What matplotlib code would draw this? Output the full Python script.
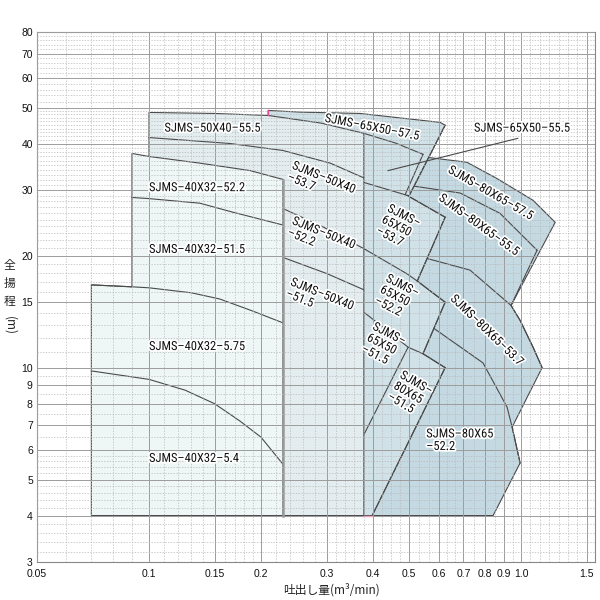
import numpy as np
import matplotlib
matplotlib.use("Agg")
import matplotlib.pyplot as plt
import matplotlib.patheffects as pe
from matplotlib import font_manager
from matplotlib.ticker import FixedLocator, FixedFormatter, NullFormatter

# ---- curves: flow (m3/min), head (m) ----
# SJMS-40X32
q_4032_54 = [0.07, 0.10, 0.125, 0.15, 0.175, 0.20, 0.229]
h_4032_54 = [9.8, 9.3, 8.7, 8.0, 7.2, 6.5, 5.5]
q_4032_575 = [0.07, 0.09, 0.10, 0.13, 0.155, 0.19, 0.229]
h_4032_575 = [16.7, 16.5, 16.4, 15.9, 15.3, 14.2, 13.2]
q_4032_515 = [0.09, 0.10, 0.137, 0.168, 0.229]
h_4032_515 = [28.7, 28.5, 27.7, 26.2, 24.2]
q_4032_522 = [0.09, 0.10, 0.137, 0.187, 0.229]
h_4032_522 = [37.7, 37.0, 35.5, 33.9, 32.1]

# SJMS-50X40
q_5040_555 = [0.10, 0.15, 0.209, 0.29, 0.378]
h_5040_555 = [48.6, 48.3, 47.7, 45.5, 42.7]
q_5040_537 = [0.10, 0.165, 0.229, 0.307, 0.378]
h_5040_537 = [41.6, 40.1, 38.4, 35.5, 32.4]
q_5040_522 = [0.229, 0.294, 0.378]
h_5040_522 = [26.8, 23.9, 20.9]
q_5040_515 = [0.229, 0.301, 0.378]
h_5040_515 = [19.8, 17.9, 16.2]

# SJMS-65X50 (+ 80X65-51.5)
q_6550_575 = [0.209, 0.255, 0.369, 0.48, 0.606, 0.625]
h_6550_575 = [49.2, 48.7, 48.3, 46.9, 45.7, 44.9]
q_6550_555 = [0.378, 0.46, 0.545]
h_6550_555 = [42.7, 40.2, 37.5]
q_6550_537 = [0.378, 0.493, 0.625]
h_6550_537 = [31.5, 29.1, 25.4]
q_6550_522 = [0.378, 0.493, 0.526, 0.625]
h_6550_522 = [20.9, 17.9, 17.1, 15.0]
q_515 = [0.378, 0.436, 0.497, 0.545, 0.625]
h_515 = [14.1, 12.6, 11.35, 10.9, 10.0]
# straight limit lines (flow, head) pairs
edge_6550_575 = ([0.625, 0.50], [44.9, 29.0])
edge_6550_555 = ([0.545, 0.488], [37.5, 29.2])
edge_6550_537 = ([0.625, 0.526], [25.4, 17.1])
edge_6550_522 = ([0.625, 0.545], [15.0, 10.9])
edge_6550_515 = ([0.497, 0.378], [11.35, 6.6])
edge_8065_515 = ([0.625, 0.398], [10.0, 4.0])

# SJMS-80X65
q_8065_575 = [0.50, 0.56, 0.715, 0.86, 1.077, 1.235]
h_8065_575 = [37.0, 36.8, 35.7, 32.3, 28.2, 24.6]
q_8065_555 = [0.503, 0.686, 0.878, 1.104]
h_8065_555 = [30.9, 29.5, 26.0, 20.7]
q_8065_537 = [0.52, 0.545, 0.729, 0.94, 0.994, 1.077, 1.139]
h_8065_537 = [20.2, 19.8, 18.3, 14.7, 13.4, 11.35, 10.0]
q_8065_522 = [0.56, 0.58, 0.79, 0.917, 0.946, 0.994]
h_8065_522 = [13.2, 12.8, 10.3, 7.83, 6.92, 5.54]

h_min = 4.0

# axis ticks
x_major = [0.05, 0.1, 0.15, 0.2, 0.3, 0.4, 0.5, 0.6, 0.7, 0.8, 0.9, 1.0, 1.5]
x_labels = ['0.05', '0.1', '0.15', '0.2', '0.3', '0.4', '0.5', '0.6', '0.7',
            '0.8', '0.9', '1.0', '1.5']
y_major = [3, 4, 5, 6, 7, 8, 9, 10, 15, 20, 30, 40, 50, 60, 70, 80]

# minor grid
x_minor = list(np.arange(0.06, 0.095, 0.01)) + list(np.arange(0.11, 0.145, 0.01)) \
    + list(np.arange(0.16, 0.195, 0.01)) + [0.22, 0.24, 0.26, 0.28]
for a, b, n in [(0.3, 0.4, 5), (0.4, 0.5, 4), (0.5, 0.6, 3), (0.6, 0.7, 3),
                (0.7, 0.8, 2), (0.8, 0.9, 2), (0.9, 1.0, 2), (1.0, 1.5, 7)]:
    x_minor += list(np.geomspace(a, b, n + 1)[1:-1])
y_minor = [v for v in np.arange(3.2, 6.0, 0.2) if abs(v - round(v)) > 0.05] \
    + [6.5, 7.5, 8.5, 9.5] + [11, 12, 13, 14, 16, 17, 18, 19] \
    + [v for v in range(21, 50) if v not in (30, 40)] \
    + [v for v in range(52, 80, 2) if v not in (60, 70)]

# narrow font for the model labels, if one is installed
installed = {f.name for f in font_manager.fontManager.ttflist}
narrow, stretch, lab_size = None, 'normal', 9.0
for c in ['Liberation Sans Narrow', 'Roboto Condensed', 'Open Sans Condensed',
          'Noto Sans Condensed', 'DejaVu Sans Condensed']:
    if c in installed:
        narrow = c
        break
if narrow is None:
    for f in font_manager.fontManager.ttflist:
        if str(f.stretch) in ('condensed', 'semi-condensed', '87', '75') and f.style == 'normal':
            narrow, stretch = f.name, f.stretch
            break
if narrow is None:
    narrow, lab_size = 'DejaVu Sans', 8.0
tickfont = 'Liberation Sans' if 'Liberation Sans' in installed else 'DejaVu Sans'
cjk = ['Noto Sans CJK JP', 'DejaVu Sans']

c_4032 = '#eef6f6'
c_5040 = '#e3edf0'
c_6550 = '#d0e1e8'
c_8065 = '#c4d9e1'
lc = '#4a4a4a'

fig = plt.figure(figsize=(6, 6), dpi=100)
ax = fig.add_axes([37 / 600, 1 - 562 / 600, (595 - 37) / 600, (562 - 32) / 600])
ax.set_xscale('log')
ax.set_yscale('log')


def curve(q, h, z):
    ax.plot(q, h, color=lc, lw=0.8, zorder=z)


# 80X65 (back)
i537 = q_8065_537.index(0.94)
i522 = q_8065_522.index(0.946)
dq = [0.378, 0.378] + q_8065_575 + q_8065_537[i537:] + q_8065_522[i522:] + [0.841]
dh = [h_min, 37.0] + h_8065_575 + h_8065_537[i537:] + h_8065_522[i522:] + [h_min]
ax.fill(dq, dh, facecolor=c_8065, edgecolor=lc, lw=0.8, zorder=1.0)
curve(q_8065_555, h_8065_555, 1.05)
curve(q_8065_537, h_8065_537, 1.05)
curve(q_8065_522, h_8065_522, 1.05)
curve([1.104, 0.94], [20.7, 14.7], 1.05)

# 65X50 (+80X65-51.5)
mq = [0.209] + q_6550_575 + [0.50, 0.493, 0.625, 0.526, 0.625, 0.545, 0.625, 0.398]
mh = [h_min] + h_6550_575 + [29.0, 29.1, 25.4, 17.1, 15.0, 10.9, 10.0, h_min]
ax.fill(mq, mh, facecolor=c_6550, edgecolor=lc, lw=0.8, zorder=1.2)
for q, h in [(q_6550_555, h_6550_555), (q_6550_537, h_6550_537),
             (q_6550_522, h_6550_522), (q_515, h_515),
             edge_6550_575, edge_6550_555, edge_6550_537, edge_6550_522,
             edge_6550_515, edge_8065_515]:
    curve(q, h, 1.25)

# 50X40
lq = [0.1] + q_5040_555 + [0.378]
lh = [h_min] + h_5040_555 + [h_min]
ax.fill(lq, lh, facecolor=c_5040, edgecolor=lc, lw=0.8, zorder=1.4)
curve(q_5040_537, h_5040_537, 1.45)
curve(q_5040_522, h_5040_522, 1.45)
curve(q_5040_515, h_5040_515, 1.45)

# 40X32 (front)
sq = [0.07] + q_4032_575[:2] + q_4032_522 + [0.229]
sh = [h_min] + h_4032_575[:2] + h_4032_522 + [h_min]
ax.fill(sq, sh, facecolor=c_4032, edgecolor=lc, lw=0.8, zorder=1.6)
curve(q_4032_575, h_4032_575, 1.65)
curve(q_4032_515, h_4032_515, 1.65)
curve(q_4032_54, h_4032_54, 1.65)
ax.plot([0.2295, 0.2295], [h_min, 32.0], color='#9a9a9a', lw=1.8, zorder=1.66)

# pink marks
ax.plot([0.209, 0.209], [47.7, 49.2], color='#e0509a', lw=1.0, zorder=3)
ax.plot([0.378, 0.398], [h_min, h_min], color='#f0a0c0', lw=1.0, zorder=3)

# leader line
ax.plot([0.439, 0.98], [33.9, 41.4], color=lc, lw=0.8, zorder=3)

halo = [pe.withStroke(linewidth=2.5, foreground='white')]
d = '–'
labels = [
    (f'SJMS{d}50X40{d}55.5', 0.110, 44.1, 0, 'left'),
    (f'SJMS{d}40X32{d}52.2', 0.100, 30.5, 0, 'left'),
    (f'SJMS{d}40X32{d}51.5', 0.100, 20.8, 0, 'left'),
    (f'SJMS{d}40X32{d}5.75', 0.100, 11.4, 0, 'left'),
    (f'SJMS{d}40X32{d}5.4', 0.100, 5.7, 0, 'left'),
    (f'SJMS{d}65X50{d}57.5', 0.398, 44.3, -11, 'center'),
    (f'SJMS{d}65X50{d}55.5', 1.007, 44.1, 0, 'center'),
    (f'SJMS{d}50X40\n{d}53.7', 0.291, 31.3, -22, 'center'),
    (f'SJMS{d}50X40\n{d}52.2', 0.291, 22.2, -22, 'center'),
    (f'SJMS{d}50X40\n{d}51.5', 0.288, 15.2, -22, 'center'),
    (f'SJMS{d}\n65X50\n{d}53.7', 0.468, 23.9, -27, 'center'),
    (f'SJMS{d}\n65X50\n{d}52.2', 0.4635, 15.5, -27, 'center'),
    (f'SJMS{d}\n65X50\n{d}51.5', 0.427, 11.5, -27, 'center'),
    (f'SJMS{d}\n80X65\n{d}51.5', 0.503, 8.5, -30, 'center'),
    (f'SJMS{d}80X65\n{d}52.2', 0.556, 6.38, 0, 'left'),
    (f'SJMS{d}80X65{d}57.5', 0.829, 29.5, -30, 'center'),
    (f'SJMS{d}80X65{d}55.5', 0.771, 24.2, -36, 'center'),
    (f'SJMS{d}80X65{d}53.7', 0.809, 12.6, -44, 'center'),
]
for txt, x, y, rot, ha in labels:
    ax.text(x, y, txt, rotation=rot, rotation_mode='anchor', ha=ha, va='center',
            multialignment='left', fontsize=lab_size, family=narrow,
            fontstretch=stretch, color='#111111',
            linespacing=0.95, path_effects=halo, zorder=5)

ax.set_xlim(0.05, 1.58)
ax.set_ylim(3, 80)
ax.xaxis.set_major_locator(FixedLocator(x_major))
ax.xaxis.set_major_formatter(FixedFormatter(x_labels))
ax.xaxis.set_minor_locator(FixedLocator(x_minor))
ax.xaxis.set_minor_formatter(NullFormatter())
ax.yaxis.set_major_locator(FixedLocator(y_major))
ax.yaxis.set_major_formatter(FixedFormatter([str(v) for v in y_major]))
ax.yaxis.set_minor_locator(FixedLocator(y_minor))
ax.yaxis.set_minor_formatter(NullFormatter())
ax.tick_params(which='both', length=0)
ax.tick_params(axis='x', pad=5)
ax.tick_params(axis='y', pad=3)
for lab in ax.get_xticklabels() + ax.get_yticklabels():
    lab.set_family(tickfont)
    lab.set_fontsize(7.5)
    lab.set_color('#111111')
ax.set_axisbelow(False)
ax.grid(True, which='major', color='#9c9c9c', lw=0.7, ls='-')
ax.grid(True, which='minor', color='#b8b8b8', lw=0.5, ls=(0, (2, 2)))
for s in ax.spines.values():
    s.set_color('#888888')
    s.set_linewidth(0.8)

# axis titles
for ch, py in [('全', 265), ('揚', 283), ('程', 301)]:
    fig.text(9.5 / 600, 1 - py / 600, ch, ha='center', va='center',
             fontsize=8.5, family=cjk, color='#222222')
fig.text(9.5 / 600, 1 - 326 / 600, '(m)', ha='center', va='center', rotation=-90,
         fontsize=8.5, family=cjk, color='#222222')
fig.text(332 / 600, 1 - 590 / 600, '吐出し量(m³/min)', ha='center', va='center',
         fontsize=8.5, family=cjk, color='#222222')

fig.savefig('out.png', dpi=100, facecolor='white')
